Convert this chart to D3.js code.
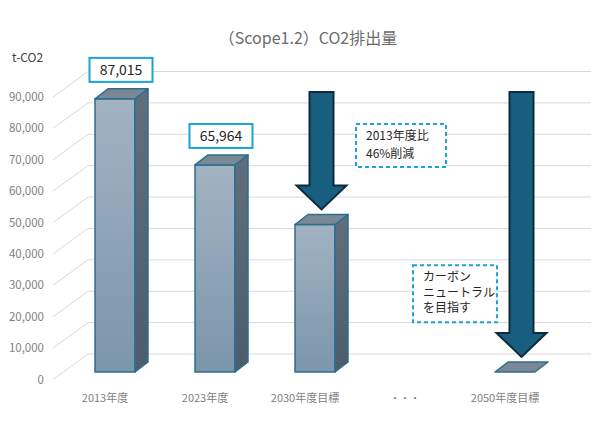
<!DOCTYPE html>
<html>
<head>
<meta charset="utf-8">
<script src="https://cdn.jsdelivr.net/npm/d3@7"></script>
<style>
body { margin: 0; background: #fff; }
text { font-family: "Noto Sans CJK JP", "Noto Sans", sans-serif; }
</style>
</head>
<body>
<div id="viz"></div>
<script>
// data
const categories = ["2013年度", "2023年度", "2030年度目標", "・・・", "2050年度目標"];
const values = [87015, 65964, 46988, null, 0];
const valueLabels = ["87,015", "65,964", null, null, null];
const ticks = [0, 10000, 20000, 30000, 40000, 50000, 60000, 70000, 80000, 90000];
const arrowCats = ["2030年度目標", "2050年度目標"];
const arrowFrom = [89200, 89200];
const arrowTo = [51800, 4800];
const note1 = ["2013年度比", "46%削減"];
const note2 = ["カーボン", "ニュートラル", "を目指す"];

function draw() {
	let width = 606, height = 427;

	let svg = d3.select("#viz").append("svg")
		.attr("width", width).attr("height", height);

	let x = d3.scalePoint().domain(categories).range([105, 505]);
	let y = d3.scaleLinear().domain([0, 90000]).range([379.5, 97]);
	let fmt = d3.format(",");

	// 3d offsets
	let wallDx = 35, wallDy = -25.5;   // back wall
	let planeDx = 10, planeDy = -7.5;  // front of bars
	let depDx = 13, depDy = -10;       // bar depth
	let barW = 40;
	let axisX = 53;

	// title
	svg.append("text").text("（Scope1.2）CO2排出量")
		.attr("x", 308).attr("y", 44)
		.attr("text-anchor", "middle")
		.style("fill", "#6b6b6b")
		.style("font-size", "16px");

	svg.append("text").text("t-CO2")
		.attr("x", 12).attr("y", 62)
		.style("fill", "#404040")
		.style("font-size", "12px");

	// gridlines: side wall diagonal + back wall horizontal
	let grid = svg.append("g");
	ticks.forEach(function (t) {
		grid.append("line")
			.attr("x1", axisX).attr("y1", y(t))
			.attr("x2", axisX + wallDx).attr("y2", y(t) + wallDy)
			.attr("stroke", "#d9d9d9").attr("stroke-width", 1);
		grid.append("line")
			.attr("x1", axisX + wallDx).attr("y1", y(t) + wallDy)
			.attr("x2", 591).attr("y2", y(t) + wallDy)
			.attr("stroke", "#d9d9d9").attr("stroke-width", 1);
		grid.append("text").text(fmt(t))
			.attr("x", 44).attr("y", y(t) + 4)
			.attr("text-anchor", "end")
			.style("fill", "#7f7f7f")
			.style("font-size", "11.5px");
	});

	// gradients
	let defs = svg.append("defs");
	let gFront = defs.append("linearGradient").attr("id", "gFront")
		.attr("x1", 0).attr("y1", 0).attr("x2", 0).attr("y2", 1);
	gFront.append("stop").attr("offset", "0%").attr("stop-color", "#a2b3c2");
	gFront.append("stop").attr("offset", "100%").attr("stop-color", "#7b95ab");
	let gSide = defs.append("linearGradient").attr("id", "gSide")
		.attr("x1", 0).attr("y1", 0).attr("x2", 0).attr("y2", 1);
	gSide.append("stop").attr("offset", "0%").attr("stop-color", "#616f7c");
	gSide.append("stop").attr("offset", "100%").attr("stop-color", "#4c5c6b");

	// bars
	let bars = svg.append("g");
	categories.forEach(function (c, i) {
		let v = values[i];
		if (v === null) return;
		let x0 = x(c) + planeDx - barW / 2, x1 = x0 + barW;
		let yb = y(0) + planeDy, yt = y(v) + planeDy;
		let stroke = "#2d6f8f";

		if (yb - yt > 0.5) {
			bars.append("rect")
				.attr("x", x0).attr("y", yt)
				.attr("width", barW).attr("height", yb - yt)
				.style("fill", "url(#gFront)")
				.attr("stroke", stroke).attr("stroke-width", 1.5);
			bars.append("polygon")
				.attr("points", [[x1, yt], [x1 + depDx, yt + depDy], [x1 + depDx, yb + depDy], [x1, yb]].join(" "))
				.style("fill", "url(#gSide)")
				.attr("stroke", stroke).attr("stroke-width", 1.5)
				.attr("stroke-linejoin", "round");
		}
		bars.append("polygon")
			.attr("points", [[x0, yt], [x1, yt], [x1 + depDx, yt + depDy], [x0 + depDx, yt + depDy]].join(" "))
			.style("fill", "#7a8794")
			.attr("stroke", stroke).attr("stroke-width", 1.5)
			.attr("stroke-linejoin", "round");

		if (valueLabels[i]) {
			let cx = x(c) + planeDx + 6, bw = 63, bh = 24;
			let by = yt + depDy - 7 - bh;
			bars.append("rect")
				.attr("x", cx - bw / 2).attr("y", by)
				.attr("width", bw).attr("height", bh)
				.style("fill", "#fff")
				.attr("stroke", "#1aa3d8").attr("stroke-width", 2);
			bars.append("text").text(valueLabels[i])
				.attr("x", cx).attr("y", by + 17)
				.attr("text-anchor", "middle")
				.style("fill", "#262626")
				.style("font-weight", "400")
				.style("font-size", "14px");
		}
	});

	// category labels
	categories.forEach(function (c) {
		svg.append("text").text(c)
			.attr("x", x(c)).attr("y", 402)
			.attr("text-anchor", "middle")
			.style("fill", "#7f7f7f")
			.style("font-size", c === "・・・" ? "10px" : "11px");
	});

	// arrows
	arrowCats.forEach(function (c, i) {
		let cx = x(c) + planeDx + 6.5;
		let top = y(arrowFrom[i]) + planeDy, tip = y(arrowTo[i]) + planeDy;
		let sw = 12, hw = 25, hh = 24;
		let pts = [[cx - sw, top], [cx + sw, top], [cx + sw, tip - hh], [cx + hw, tip - hh],
			[cx, tip], [cx - hw, tip - hh], [cx - sw, tip - hh]];
		svg.append("polygon")
			.attr("points", pts.join(" "))
			.style("fill", "#185e7f")
			.attr("stroke", "#0e2b3c").attr("stroke-width", 2);
	});

	// notes
	function note(lines, nx, ny, nw, nh, fs, lh) {
		svg.append("rect")
			.attr("x", nx).attr("y", ny)
			.attr("width", nw).attr("height", nh)
			.style("fill", "#fff")
			.attr("stroke", "#1aa3d8").attr("stroke-width", 2)
			.attr("stroke-dasharray", "4,3");
		let t = svg.append("text")
			.attr("x", nx + 10).attr("y", ny + fs + 4)
			.style("fill", "#262626")
			.style("font-size", fs + "px");
		lines.forEach(function (l, k) {
			t.append("tspan").text(l)
				.attr("x", nx + 10)
				.attr("dy", k === 0 ? 0 : lh);
		});
	}
	note(note1, x("2030年度目標") + 51, y(75000) - 20, 90, 43, 12, 17.5);
	note(note2, x("・・・") + 8, y(30000) - 20, 84, 57, 12, 15.5);
}
draw();
</script>
</body>
</html>
